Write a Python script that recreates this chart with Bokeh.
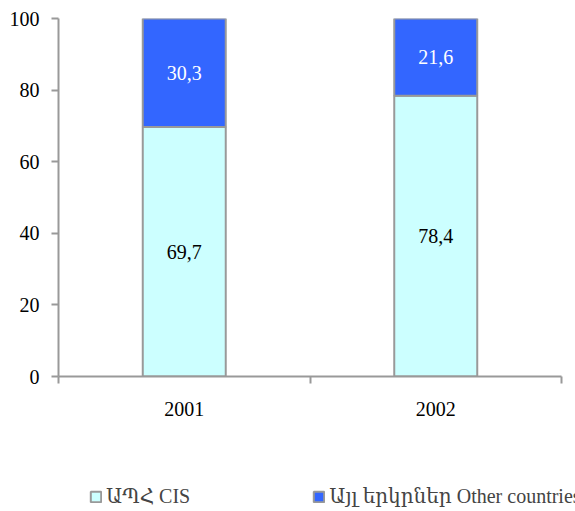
from bokeh.plotting import figure
from bokeh.layouts import column
from bokeh.models import (ColumnDataSource, Range1d, LinearAxis,
                          FixedTicker, Legend, LegendItem, LabelSet)
from bokeh.embed import file_html
from bokeh.resources import INLINE

years = ["2001", "2002"]
cis = [69.7, 78.4]
other = [30.3, 21.6]
series_names = ["ԱՊՀ CIS", "Այլ երկրներ Other countries"]
y_ticks = [0, 20, 40, 60, 80, 100]

FONT = "'Liberation Serif', 'DejaVu Serif', serif"
FS = "20px"
GRAY = "#999999"
COLORS = ["#CCFFFF", "#3366FF"]

# frame spans to the right page edge; the axis line stops where the last category ends
X_END = len(years) * (575 - 58) / (561 - 58)

centers = [i + 0.5 for i in range(len(years))]
src = ColumnDataSource(dict(
    x=centers, cis=cis, other=other,
    cis_mid=[v / 2 for v in cis],
    other_mid=[a + b / 2 for a, b in zip(cis, other)],
    cis_lbl=[f"{v:.1f}".replace(".", ",") for v in cis],
    other_lbl=[f"{v:.1f}".replace(".", ",") for v in other],
))

p = figure(width=575, height=430, x_range=Range1d(0, X_END),
           y_range=Range1d(0, 100), output_backend="svg", toolbar_location=None,
           x_axis_location=None, y_axis_location=None,
           min_border_left=58, min_border_right=0, min_border_top=18, min_border_bottom=54)
p.outline_line_color = None
p.xgrid.visible = False
p.ygrid.visible = False

# y axis
yax = LinearAxis(ticker=FixedTicker(ticks=y_ticks))
yax.axis_line_color = GRAY
yax.axis_line_width = 2
yax.major_tick_line_color = GRAY
yax.major_tick_line_width = 2
yax.major_tick_in = 0
yax.major_tick_out = 7
yax.minor_tick_line_color = None
yax.major_label_text_font = FONT
yax.major_label_text_font_size = FS
yax.major_label_text_color = "black"
yax.major_label_standoff = 12
p.add_layout(yax, "left")

# x axis with boundary ticks
xax = LinearAxis(ticker=FixedTicker(ticks=list(range(len(years) + 1))),
                 bounds=(0, len(years)))
xax.axis_line_color = GRAY
xax.axis_line_width = 2
xax.major_tick_line_color = GRAY
xax.major_tick_line_width = 2
xax.major_tick_in = 0
xax.major_tick_out = 7
xax.minor_tick_line_color = None
xax.major_label_text_font_size = "0px"
xax.major_label_standoff = 0
p.add_layout(xax, "below")

# category labels
cax = LinearAxis(ticker=FixedTicker(ticks=centers),
                 major_label_overrides={c: y for c, y in zip(centers, years)})
cax.axis_line_color = None
cax.major_tick_line_color = None
cax.major_tick_in = 0
cax.major_tick_out = 0
cax.minor_tick_line_color = None
cax.major_label_text_font = FONT
cax.major_label_text_font_size = FS
cax.major_label_text_color = "black"
cax.major_label_standoff = 18
p.add_layout(cax, "below")

p.vbar_stack(["cis", "other"], x="x", width=0.33, source=src,
             fill_color=COLORS, line_color=GRAY, line_width=2)

p.add_layout(LabelSet(x="x", y="cis_mid", text="cis_lbl", source=src,
                      text_align="center", text_baseline="middle", text_font=FONT,
                      text_font_size=FS, text_color="black"))
p.add_layout(LabelSet(x="x", y="other_mid", text="other_lbl", source=src,
                      text_align="center", text_baseline="middle", text_font=FONT,
                      text_font_size=FS, text_color="white"))

# legend strip below the chart (hidden renderers supply the legend swatches)
p2 = figure(width=575, height=81, x_range=Range1d(0, X_END),
            y_range=Range1d(0, 100), output_backend="svg", toolbar_location=None,
            x_axis_location=None, y_axis_location=None,
            min_border_left=0, min_border_right=0, min_border_top=0, min_border_bottom=0)
p2.outline_line_color = None
p2.xgrid.visible = False
p2.ygrid.visible = False
rs = p2.vbar_stack(["cis", "other"], x="x", width=0.33, source=src,
                   fill_color=COLORS, line_color=GRAY, line_width=2)
for r in rs:
    r.visible = False

legend = Legend(items=[LegendItem(label=series_names[0], renderers=[rs[0]]),
                       LegendItem(label=series_names[1], renderers=[rs[1]])],
                orientation="horizontal", location=(31, 3),
                label_text_font=FONT, label_text_font_size=FS,
                glyph_width=13, glyph_height=13, label_standoff=4, spacing=122,
                padding=0, margin=0, border_line_color=None, background_fill_alpha=0,
                label_height=20, inactive_fill_alpha=0)
p2.add_layout(legend, "center")

layout = column(p, p2, spacing=0)
open("out.html", "w").write(file_html(layout, INLINE))
